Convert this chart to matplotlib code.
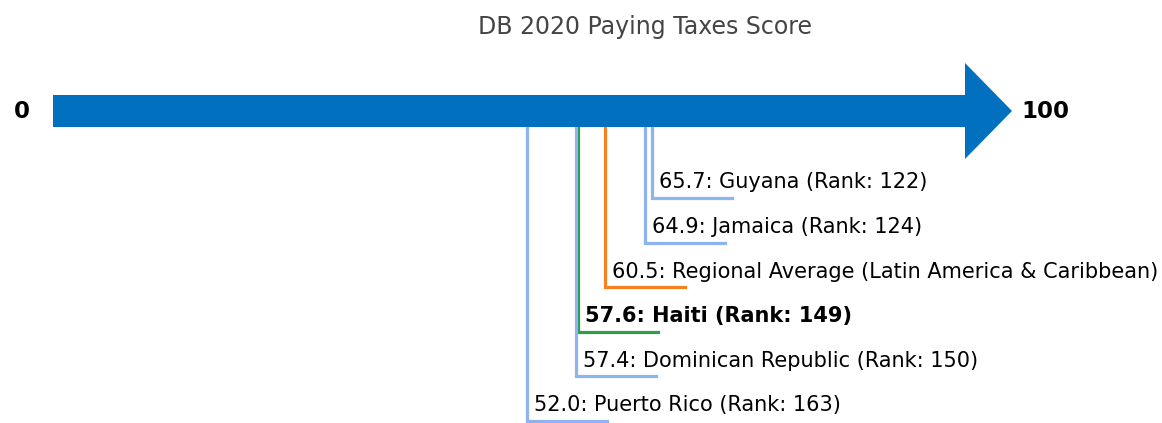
import matplotlib
matplotlib.use("Agg")
import matplotlib.pyplot as plt
from matplotlib.patches import FancyArrow

# ---- data ----
title = "DB 2020 Paying Taxes Score"
names = ["Guyana", "Jamaica", "Regional Average (Latin America & Caribbean)",
         "Haiti", "Dominican Republic", "Puerto Rico"]
scores = [65.7, 64.9, 60.5, 57.6, 57.4, 52.0]
ranks = [122, 124, None, 149, 150, 163]
kinds = ["peer", "peer", "region", "focus", "peer", "peer"]
scale_min, scale_max = 0, 100

# ---- style ----
W, H, DPI = 1162, 423, 100
px_per_unit = 9.12
x0_px = 53
colors = {"peer": "#8DB4EE", "region": "#F5821F", "focus": "#2E9E48"}
arrow_color = "#0070BF"

fig = plt.figure(figsize=(W / DPI, H / DPI), dpi=DPI)
ax = fig.add_axes([0, 0, 1, 1])
ax.set_xlim(-x0_px / px_per_unit, (W - x0_px) / px_per_unit)
ax.set_ylim(H, 0)
ax.axis("off")

arrow_y = 111
head_len = 47 / px_per_unit
ax.add_patch(FancyArrow(scale_min, arrow_y, (scale_max - scale_min) + head_len, 0,
                        width=32, head_width=96, head_length=head_len,
                        length_includes_head=True, color=arrow_color, lw=0, zorder=3))

ax.text(scale_min - 39 / px_per_unit, arrow_y, str(scale_min), ha="left", va="center",
        fontsize=16.5, fontweight="bold", color="black")
ax.text(scale_max + (1021 - 965) / px_per_unit, arrow_y, str(scale_max), ha="left",
        va="center", fontsize=16.5, fontweight="bold", color="black")

ax.text((645 - x0_px) / px_per_unit, 27, title, ha="center", va="center",
        fontsize=17, color="#444444")

first_y, step = 198, 44.6
hlen = 80 / px_per_unit
for i, (n, s, r, k) in enumerate(zip(names, scores, ranks, kinds)):
    yl = first_y + i * step
    c = colors[k]
    ax.plot([s, s, s + hlen], [arrow_y, yl, yl], color=c, lw=2.3, zorder=2,
            solid_joinstyle="miter")
    label = f"{s:.1f}: {n}" + (f" (Rank: {r})" if r is not None else "")
    ax.text(s + 7 / px_per_unit, yl - 15.5, label, ha="left", va="center",
            fontsize=15, color="black",
            fontweight="bold" if k == "focus" else "normal")

fig.savefig("out.png", dpi=DPI)
